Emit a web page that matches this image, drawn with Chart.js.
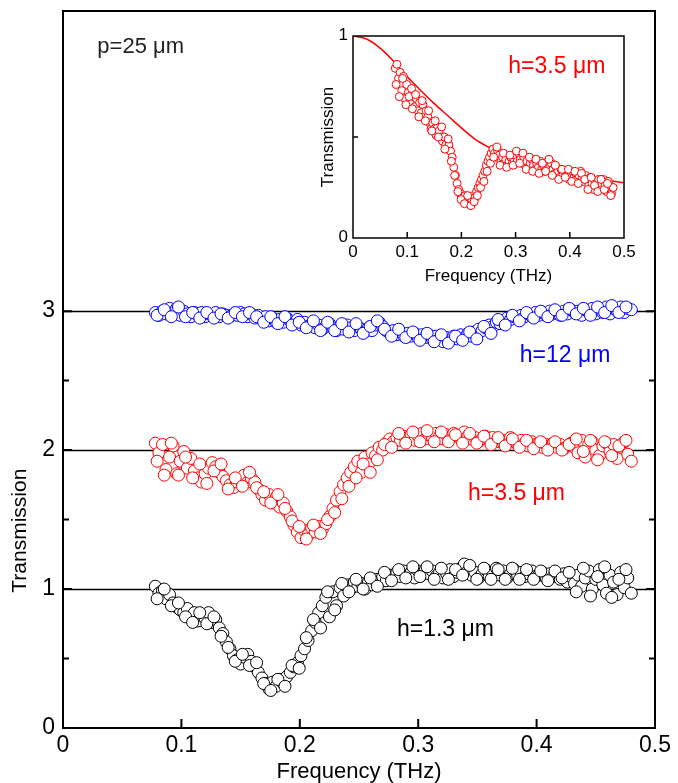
<!DOCTYPE html>
<html lang="en">
<head>
<meta charset="UTF-8">
<title>Transmission vs frequency</title>
<script src="https://cdn.jsdelivr.net/npm/chart.js@4.4.0/dist/chart.umd.min.js"></script>
<style>
    html, body { margin: 0; padding: 0; background: #fff; }
    .wrap { position: relative; width: 678px; height: 783px; }
    #mainChart { position: absolute; left: 0; top: 0; }
    #insetChart { position: absolute; left: 300px; top: 20px; }
</style>
</head>
<body>
<div class="wrap">
    <canvas id="mainChart" width="678" height="783"></canvas>
    <canvas id="insetChart" width="345" height="275"></canvas>
</div>
<script>
// frequency grid (THz) of the first sweep
const freq = [
    0.078,0.081,0.084,0.087,0.090,0.093,0.096,0.099,0.102,0.105,
    0.108,0.111,0.114,0.117,0.120,0.123,0.126,0.129,0.132,0.135,
    0.138,0.141,0.144,0.147,0.150,0.153,0.156,0.159,0.162,0.165,
    0.168,0.171,0.174,0.177,0.180,0.183,0.186,0.189,0.192,0.195,
    0.198,0.201,0.204,0.207,0.210,0.213,0.216,0.219,0.222,0.225,
    0.228,0.231,0.234,0.237,0.240,0.243,0.246,0.249,0.252,0.255,
    0.258,0.261,0.264,0.267,0.270,0.273,0.276,0.279,0.282,0.285,
    0.288,0.291,0.294,0.297,0.300,0.303,0.306,0.309,0.312,0.315,
    0.318,0.321,0.324,0.327,0.330,0.333,0.336,0.339,0.342,0.345,
    0.348,0.351,0.354,0.357,0.360,0.363,0.366,0.369,0.372,0.375,
    0.378,0.381,0.384,0.387,0.390,0.393,0.396,0.399,0.402,0.405,
    0.408,0.411,0.414,0.417,0.420,0.423,0.426,0.429,0.432,0.435,
    0.438,0.441,0.444,0.447,0.450,0.453,0.456,0.459,0.462,0.465,
    0.468,0.471,0.474,0.477,0.480
];

// frequency grid (THz) of the second sweep
const freq2 = [
    0.0795,0.0855,0.0915,0.0975,0.1035,0.1095,0.1155,0.1215,0.1275,0.1335,
    0.1395,0.1455,0.1515,0.1575,0.1635,0.1695,0.1755,0.1815,0.1875,0.1935,
    0.1995,0.2055,0.2115,0.2175,0.2235,0.2295,0.2355,0.2415,0.2475,0.2535,
    0.2595,0.2655,0.2715,0.2775,0.2835,0.2895,0.2955,0.3015,0.3075,0.3135,
    0.3195,0.3255,0.3315,0.3375,0.3435,0.3495,0.3555,0.3615,0.3675,0.3735,
    0.3795,0.3855,0.3915,0.3975,0.4035,0.4095,0.4155,0.4215,0.4275,0.4335,
    0.4395,0.4455,0.4515,0.4575,0.4635,0.4695,0.4755
];

// h = 1.3 um (plotted at offset 1)
const trans13 = [
    1.02,0.97,0.99,0.93,0.96,0.90,0.87,0.85,0.83,0.86,
    0.80,0.83,0.77,0.81,0.79,0.83,0.76,0.78,0.72,0.68,
    0.62,0.57,0.52,0.49,0.46,0.51,0.53,0.48,0.44,0.40,
    0.36,0.32,0.28,0.33,0.30,0.35,0.32,0.37,0.40,0.44,
    0.47,0.52,0.57,0.63,0.70,0.76,0.83,0.88,0.94,0.80,
    0.98,0.88,1.01,0.95,1.03,1.00,1.05,1.02,1.04,1.00,
    1.05,1.03,1.07,1.05,1.09,1.06,1.10,1.08,1.12,1.09,
    1.13,1.10,1.12,1.08,1.13,1.10,1.14,1.11,1.13,1.09,
    1.12,1.08,1.11,1.14,1.09,1.12,1.15,1.18,1.13,1.10,
    1.12,1.08,1.11,1.14,1.09,1.12,1.15,1.10,1.13,1.08,
    1.11,1.14,1.10,1.12,1.09,1.11,1.13,1.09,1.10,1.12,
    1.08,1.11,1.09,1.10,1.07,1.11,1.05,1.09,1.04,1.10,
    1.02,1.08,1.13,1.00,1.07,1.14,1.03,0.97,1.10,1.05,
    0.96,1.12,1.01,1.08,0.97
];
const trans13b = [
    0.93,1.00,0.88,0.90,0.80,0.76,0.83,0.75,0.80,0.66,
    0.58,0.48,0.53,0.45,0.47,0.32,0.27,0.35,0.30,0.45,
    0.43,0.65,0.78,0.72,0.98,0.85,1.04,0.98,1.07,1.00,
    1.08,1.02,1.12,1.06,1.14,1.08,1.16,1.09,1.16,1.07,
    1.15,1.07,1.14,1.10,1.17,1.07,1.15,1.07,1.14,1.07,
    1.15,1.07,1.14,1.07,1.13,1.06,1.13,1.08,1.12,0.98,
    1.15,0.95,1.09,1.16,0.94,1.07,1.14
];

// h = 3.5 um (plotted at offset 2)
const trans35 = [
    2.05,1.98,2.04,1.86,1.95,2.03,1.83,1.92,1.99,1.87,
    1.94,1.85,1.80,1.77,1.83,1.87,1.91,1.88,1.84,1.81,
    1.78,1.75,1.73,1.77,1.79,1.82,1.77,1.80,1.77,1.72,
    1.68,1.64,1.68,1.62,1.66,1.59,1.62,1.56,1.52,1.46,
    1.41,1.37,1.42,1.39,1.44,1.41,1.45,1.43,1.47,1.52,
    1.58,1.64,1.70,1.75,1.80,1.84,1.88,1.92,1.84,1.95,
    1.90,1.98,1.96,2.02,2.00,2.05,2.08,2.06,2.09,2.07,
    2.10,2.08,2.11,2.07,2.10,2.12,2.08,2.11,2.09,2.12,
    2.10,2.08,2.11,2.09,2.12,2.10,2.08,2.13,2.10,2.08,
    2.09,2.06,2.08,2.10,2.07,2.09,2.06,2.08,2.05,2.07,
    2.09,2.06,2.04,2.07,2.05,2.03,2.06,2.04,2.05,2.02,
    2.04,2.03,2.05,2.02,2.04,2.01,2.03,2.05,2.02,1.98,
    2.07,1.95,2.04,2.06,2.00,1.96,2.03,2.05,1.99,2.04,
    1.94,2.02,2.06,1.97,1.92
];
const trans35b = [
    1.92,1.82,2.05,1.82,1.95,1.80,1.90,1.76,1.85,1.90,
    1.72,1.80,1.74,1.84,1.73,1.70,1.62,1.68,1.58,1.49,
    1.45,1.36,1.46,1.40,1.50,1.55,1.65,1.74,1.80,1.90,
    1.84,1.93,2.04,2.02,2.12,2.05,2.13,2.06,2.14,2.06,
    2.13,2.06,2.11,2.05,2.12,2.05,2.10,2.04,2.09,2.03,
    2.08,2.02,2.07,2.01,2.06,2.00,2.06,2.00,2.04,2.08,
    1.99,2.07,1.93,2.06,1.96,2.03,2.07
];

// h = 12 um (plotted at offset 3)
const trans12 = [
    2.99,2.97,3.00,2.98,3.02,2.99,3.02,2.97,3.00,2.98,
    2.96,2.99,2.97,2.99,2.96,2.98,2.97,2.99,2.96,2.98,
    2.97,2.96,2.98,2.97,2.99,2.98,2.96,2.98,2.95,2.97,
    2.94,2.96,2.93,2.95,2.92,2.94,2.92,2.95,2.93,2.91,
    2.94,2.90,2.92,2.89,2.91,2.88,2.90,2.87,2.89,2.91,
    2.88,2.86,2.89,2.87,2.90,2.88,2.86,2.89,2.87,2.85,
    2.88,2.86,2.90,2.92,2.89,2.86,2.84,2.86,2.83,2.85,
    2.82,2.84,2.82,2.84,2.81,2.83,2.81,2.83,2.80,2.82,
    2.80,2.78,2.81,2.79,2.82,2.80,2.83,2.81,2.84,2.82,
    2.85,2.87,2.86,2.88,2.90,2.89,2.92,2.91,2.93,2.95,
    2.94,2.96,2.95,2.97,2.96,2.98,2.96,2.99,2.97,2.99,
    2.97,3.00,2.98,2.99,2.97,3.00,2.98,3.01,2.99,3.00,
    2.97,3.01,2.99,3.02,2.98,3.01,2.99,3.03,2.98,3.02,
    3.00,3.03,2.99,3.02,3.01
];
const trans12b = [
    2.97,3.01,2.96,3.03,2.96,2.99,2.95,2.99,2.95,2.98,
    2.95,2.99,2.96,2.99,2.96,2.92,2.96,2.91,2.96,2.90,
    2.92,2.88,2.93,2.86,2.92,2.86,2.91,2.85,2.91,2.84,
    2.89,2.93,2.87,2.82,2.87,2.81,2.85,2.79,2.84,2.78,
    2.83,2.77,2.82,2.79,2.85,2.80,2.89,2.84,2.94,2.90,
    2.97,2.93,2.99,2.95,3.00,2.96,3.01,2.97,3.02,2.98,
    3.02,2.97,3.03,2.99,3.04,2.99,3.03
];

// inset: raw transmission for h = 3.5 um
const insetTrans35 = [
    0.84,0.86,0.79,0.82,0.73,0.80,0.69,0.76,0.72,0.67,
    0.74,0.70,0.65,0.69,0.63,0.67,0.62,0.66,0.60,0.63,
    0.60,0.57,0.54,0.57,0.54,0.51,0.55,0.53,0.50,0.48,
    0.50,0.46,0.44,0.46,0.43,0.40,0.35,0.31,0.27,0.24,
    0.22,0.20,0.19,0.21,0.18,0.20,0.17,0.19,0.21,0.20,
    0.23,0.25,0.27,0.29,0.31,0.33,0.36,0.38,0.40,0.42,
    0.44,0.42,0.40,0.43,0.41,0.38,0.40,0.37,0.39,0.36,
    0.38,0.40,0.37,0.39,0.41,0.38,0.42,0.39,0.37,0.40,
    0.36,0.38,0.35,0.37,0.39,0.36,0.34,0.37,0.35,0.38,
    0.34,0.36,0.33,0.36,0.38,0.35,0.37,0.34,0.32,0.35,
    0.33,0.30,0.34,0.31,0.33,0.30,0.32,0.29,0.31,0.33,
    0.30,0.32,0.29,0.31,0.33,0.30,0.28,0.31,0.29,0.26,
    0.30,0.27,0.24,0.28,0.26,0.29,0.25,0.27,0.29,0.26,
    0.23,0.28,0.26,0.22,0.25
];
const insetTrans35b = [
    0.76,0.70,0.79,0.66,0.70,0.64,0.71,0.60,0.68,0.58,
    0.63,0.53,0.58,0.50,0.55,0.44,0.49,0.38,0.31,0.23,
    0.19,0.17,0.21,0.16,0.18,0.21,0.25,0.28,0.33,0.37,
    0.40,0.45,0.36,0.42,0.35,0.41,0.36,0.43,0.37,0.42,
    0.34,0.40,0.33,0.39,0.32,0.37,0.33,0.39,0.31,0.36,
    0.29,0.34,0.30,0.34,0.28,0.33,0.27,0.32,0.29,0.24,
    0.30,0.26,0.23,0.29,0.24,0.27,0.21
];

// inset: smooth curve
const fitFreq  = [0, 0.025, 0.05, 0.075, 0.1, 0.125, 0.15, 0.175, 0.2, 0.225, 0.25, 0.3, 0.35, 0.4, 0.45, 0.5];
const fitTrans = [1.0, 0.985, 0.94, 0.875, 0.80, 0.73, 0.665, 0.605, 0.545, 0.49, 0.45, 0.385, 0.35, 0.32, 0.295, 0.273];

// axes
const baselines = [1, 2, 3];
const xTicks = [0, 0.1, 0.2, 0.3, 0.4, 0.5];
const xTickLabels = ['0', '0.1', '0.2', '0.3', '0.4', '0.5'];
const yTicks = [0, 1, 2, 3];
const yTickLabels = ['0', '1', '2', '3'];
const yMinorTicks = [0.5, 1.5, 2.5];
const insetYTicks = [0, 1];
const insetYTickLabels = ['0', '1'];
const insetYMinorTicks = [0.5];

const FONT = "'Liberation Sans', Arial, sans-serif";

function toPoints(xs, ys) {
    return xs.map((x, i) => ({ x: x, y: ys[i] }));
}

function drawText(ctx, text, x, y, size, color, align, rotate) {
    ctx.save();
    ctx.font = size + 'px ' + FONT;
    ctx.fillStyle = color;
    ctx.textAlign = align || 'center';
    ctx.textBaseline = 'middle';
    ctx.translate(x, y);
    if (rotate) ctx.rotate(rotate);
    ctx.fillText(text, 0, 0);
    ctx.restore();
}

// ---------- main chart ----------
const mainDecor = {
    id: 'mainDecor',
    beforeDatasetsDraw(chart) {
        const { ctx, chartArea: a, scales: { y } } = chart;
        ctx.save();
        ctx.strokeStyle = '#000';
        ctx.lineWidth = 1.5;
        baselines.forEach(v => {
            const py = Math.round(y.getPixelForValue(v)) + 0.5;
            ctx.beginPath();
            ctx.moveTo(a.left, py);
            ctx.lineTo(a.right, py);
            ctx.stroke();
        });
        ctx.restore();
    },
    afterDraw(chart) {
        const { ctx, chartArea: a, scales: { x, y } } = chart;
        ctx.save();
        ctx.strokeStyle = '#000';
        ctx.lineWidth = 2;
        ctx.strokeRect(a.left, a.top, a.right - a.left, a.bottom - a.top);

        const tick = (v, len) => {
            const py = y.getPixelForValue(v);
            ctx.beginPath();
            ctx.moveTo(a.left, py); ctx.lineTo(a.left + len, py);
            ctx.moveTo(a.right, py); ctx.lineTo(a.right - len, py);
            ctx.stroke();
        };
        yTicks.forEach(v => tick(v, 9));
        yMinorTicks.forEach(v => tick(v, 6));
        xTicks.forEach(v => {
            const px = x.getPixelForValue(v);
            ctx.beginPath();
            ctx.moveTo(px, a.bottom); ctx.lineTo(px, a.bottom - 9);
            ctx.stroke();
        });
        ctx.restore();

        yTicks.forEach((v, i) => drawText(ctx, yTickLabels[i], a.left - 8, y.getPixelForValue(v), 23, '#000', 'right'));
        xTicks.forEach((v, i) => drawText(ctx, xTickLabels[i], x.getPixelForValue(v), a.bottom + 18, 23, '#000', 'center'));
        drawText(ctx, 'Frequency (THz)', (a.left + a.right) / 2, a.bottom + 44, 22, '#000', 'center');
        drawText(ctx, 'Transmission', 20, y.getPixelForValue(1.42), 21, '#000', 'center', -Math.PI / 2);

        drawText(ctx, 'p=25 \u03bcm', x.getPixelForValue(0.029), y.getPixelForValue(4.9), 22, '#222', 'left');
        drawText(ctx, 'h=12 \u03bcm', x.getPixelForValue(0.424), y.getPixelForValue(2.68), 23, '#0000ff', 'center');
        drawText(ctx, 'h=3.5 \u03bcm', x.getPixelForValue(0.383), y.getPixelForValue(1.69), 23, '#ff0000', 'center');
        drawText(ctx, 'h=1.3 \u03bcm', x.getPixelForValue(0.323), y.getPixelForValue(0.705), 23, '#000', 'center');
    }
};

const markerStyle = (color, r) => ({
    showLine: false,
    pointStyle: 'circle',
    pointRadius: r,
    pointBorderWidth: 1,
    pointBorderColor: color,
    pointBackgroundColor: '#fff',
    borderColor: color,
    backgroundColor: '#fff'
});

function sweep(label, xs, ys, color, r) {
    return Object.assign({ label: label, data: toPoints(xs, ys) }, markerStyle(color, r));
}

new Chart(document.getElementById('mainChart'), {
    type: 'scatter',
    data: {
        datasets: [
            sweep('h=1.3 b', freq2, trans13b, '#000', 6),
            sweep('h=1.3', freq, trans13, '#000', 6),
            sweep('h=3.5 b', freq2, trans35b, '#ff0000', 6),
            sweep('h=3.5', freq, trans35, '#ff0000', 6),
            sweep('h=12 b', freq2, trans12b, '#0000ff', 6),
            sweep('h=12', freq, trans12, '#0000ff', 6)
        ]
    },
    options: {
        responsive: false,
        animation: false,
        devicePixelRatio: 1,
        layout: { padding: { left: 63, right: 23, top: 11, bottom: 55 } },
        plugins: { legend: { display: false }, tooltip: { enabled: false } },
        scales: {
            x: { type: 'linear', min: 0, max: 0.5, display: false },
            y: { type: 'linear', min: 0, max: 5.16, display: false }
        }
    },
    plugins: [mainDecor]
});

// ---------- inset ----------
const insetDecor = {
    id: 'insetDecor',
    afterDraw(chart) {
        const { ctx, chartArea: a, scales: { x, y } } = chart;
        ctx.save();
        ctx.strokeStyle = '#000';
        ctx.lineWidth = 1.5;
        ctx.strokeRect(a.left, a.top, a.right - a.left, a.bottom - a.top);
        insetYMinorTicks.forEach(v => {
            const py = y.getPixelForValue(v);
            ctx.beginPath();
            ctx.moveTo(a.left, py); ctx.lineTo(a.left + 5, py);
            ctx.stroke();
        });
        xTicks.slice(1, -1).forEach(v => {
            const px = x.getPixelForValue(v);
            ctx.beginPath();
            ctx.moveTo(px, a.bottom); ctx.lineTo(px, a.bottom - 6);
            ctx.stroke();
        });
        ctx.restore();

        insetYTicks.forEach((v, i) => drawText(ctx, insetYTickLabels[i], a.left - 5, y.getPixelForValue(v) - 1, 17, '#000', 'right'));
        xTicks.forEach((v, i) => drawText(ctx, xTickLabels[i], x.getPixelForValue(v), a.bottom + 14, 17, '#000', 'center'));
        drawText(ctx, 'Frequency (THz)', (a.left + a.right) / 2, a.bottom + 38, 17, '#000', 'center');
        drawText(ctx, 'Transmission', 28, (a.top + a.bottom) / 2, 17, '#000', 'center', -Math.PI / 2);
        drawText(ctx, 'h=3.5 \u03bcm', x.getPixelForValue(0.376), y.getPixelForValue(0.85), 23, '#ff0000', 'center');
    }
};

new Chart(document.getElementById('insetChart'), {
    type: 'scatter',
    data: {
        datasets: [
            {
                label: 'fit',
                data: toPoints(fitFreq, fitTrans),
                showLine: true,
                borderColor: '#ff0000',
                borderWidth: 1.5,
                pointRadius: 0,
                cubicInterpolationMode: 'monotone',
                order: 2
            },
            Object.assign(sweep('h=3.5 raw b', freq2, insetTrans35b, '#ff0000', 4), { order: 1 }),
            Object.assign(sweep('h=3.5 raw', freq, insetTrans35, '#ff0000', 4), { order: 1 })
        ]
    },
    options: {
        responsive: false,
        animation: false,
        devicePixelRatio: 1,
        layout: { padding: { left: 53, right: 21, top: 16, bottom: 57 } },
        plugins: { legend: { display: false }, tooltip: { enabled: false } },
        scales: {
            x: { type: 'linear', min: 0, max: 0.5, display: false },
            y: { type: 'linear', min: 0, max: 1, display: false }
        }
    },
    plugins: [insetDecor]
});
</script>
</body>
</html>
